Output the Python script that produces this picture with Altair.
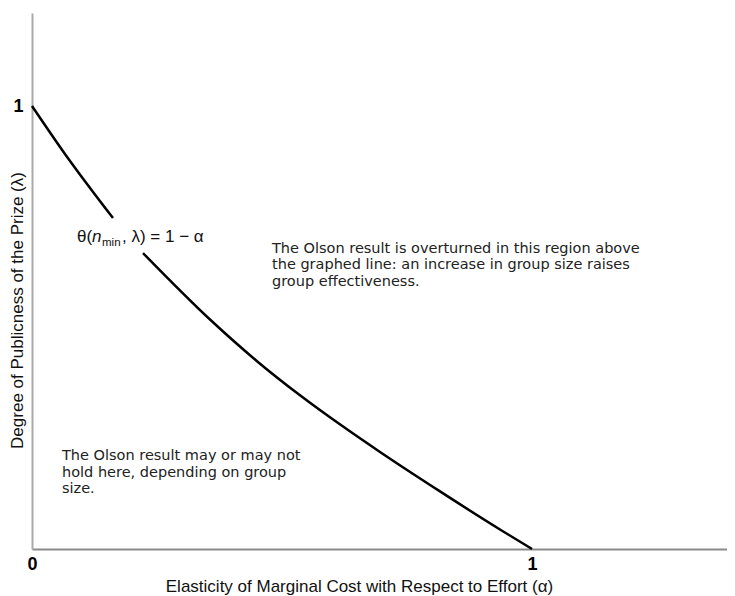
import altair as alt
import pandas as pd

# Curve theta(n_min, lambda) = 1 - alpha (gap for the label)
alpha_upper = [0.0, 0.062, 0.162]
lam_upper = [1.0, 0.898, 0.747]
alpha_lower = [0.222, 0.356, 0.45, 0.536, 0.62, 0.696, 0.816, 0.936, 1.0]
lam_lower = [0.668, 0.518, 0.424, 0.347, 0.278, 0.219, 0.130, 0.044, 0.0]

x_ticks = [0, 1]
y_ticks = [1]

x_title = "Elasticity of Marginal Cost with Respect to Effort (\u03b1)"
y_title = "Degree of Publicness of the Prize (\u03bb)"

upper_note = ("The Olson result is overturned in this region above\n"
              "the graphed line: an increase in group size raises\n"
              "group effectiveness.")
lower_note = ("The Olson result may or may not\n"
              "hold here, depending on group\n"
              "size.")
note_alpha = [0.48, 0.06]
note_lam = [0.669, 0.201]

label_alpha = 0.09
label_lam = 0.693

curve = pd.DataFrame({
    "alpha": alpha_upper + alpha_lower,
    "lam": lam_upper + lam_lower,
    "seg": ["a"] * len(alpha_upper) + ["b"] * len(alpha_lower),
})
notes = pd.DataFrame({"alpha": note_alpha, "lam": note_lam,
                      "txt": [upper_note, lower_note]})
lab = pd.DataFrame({"alpha": [label_alpha], "lam": [label_lam]})

xs = alt.Scale(domain=[0, 1.39], nice=False, zero=False)
ys = alt.Scale(domain=[0, 1.21], nice=False, zero=False)

FONT = "Liberation Sans"

line = alt.Chart(curve).mark_line(
    color="black", strokeWidth=2.5, interpolate="monotone"
).encode(
    x=alt.X("alpha:Q", scale=xs, axis=alt.Axis(
        values=x_ticks, format="d", title=x_title, grid=False, ticks=False,
        labelFont=FONT, labelFontWeight="bold", labelFontSize=18,
        labelColor="black", labelPadding=6, labelFlush=False,
        domainColor="#8a8a8a", domainWidth=2,
        titleFont=FONT, titleFontSize=17, titleFontWeight="normal",
        titleColor="#111", titleX=327, titleY=37, titleBaseline="middle",
    )),
    y=alt.Y("lam:Q", scale=ys, axis=alt.Axis(
        values=y_ticks, format="d", title=y_title, grid=False, ticks=False,
        labelFont=FONT, labelFontWeight="bold", labelFontSize=18,
        labelColor="black", labelPadding=9, labelFlush=False,
        domainColor="#aaaaaa", domainWidth=2,
        titleFont=FONT, titleFontSize=17, titleFontWeight="normal",
        titleColor="#111", titleX=-15, titleY=297, titleBaseline="middle",
        titleAngle=270,
    )),
    detail="seg:N",
)

note_text = alt.Chart(notes).mark_text(
    align="left", baseline="alphabetic", font="DejaVu Sans", fontSize=14.5,
    lineBreak="\n", lineHeight=16.7, color="#222",
).encode(x=alt.X("alpha:Q", scale=xs), y=alt.Y("lam:Q", scale=ys), text="txt:N")

base_lab = alt.Chart(lab).encode(x=alt.X("alpha:Q", scale=xs), y=alt.Y("lam:Q", scale=ys))
lab1 = base_lab.mark_text(align="left", baseline="alphabetic", font=FONT,
                          fontSize=17, color="#111", dx=0).encode(text=alt.value("\u03b8("))
lab2 = base_lab.mark_text(align="left", baseline="alphabetic", font=FONT,
                          fontSize=17, fontStyle="italic", color="#111", dx=15).encode(text=alt.value("n"))
lab3 = base_lab.mark_text(align="left", baseline="alphabetic", font=FONT,
                          fontSize=11.5, color="#111", dx=25, dy=4).encode(text=alt.value("min"))
lab4 = base_lab.mark_text(align="left", baseline="alphabetic", font=FONT,
                          fontSize=17, color="#111", dx=45).encode(text=alt.value(", \u03bb) = 1 \u2212 \u03b1"))

chart = alt.layer(line, note_text, lab1, lab2, lab3, lab4).properties(
    width=695, height=536,
    background="white",
    autosize=alt.AutoSizeParams(type="none"),
    padding={"left": 24, "top": 5, "right": 0, "bottom": 46},
).configure_view(stroke=None)

chart.save("out.html", embed_options={"renderer": "svg", "actions": False})
